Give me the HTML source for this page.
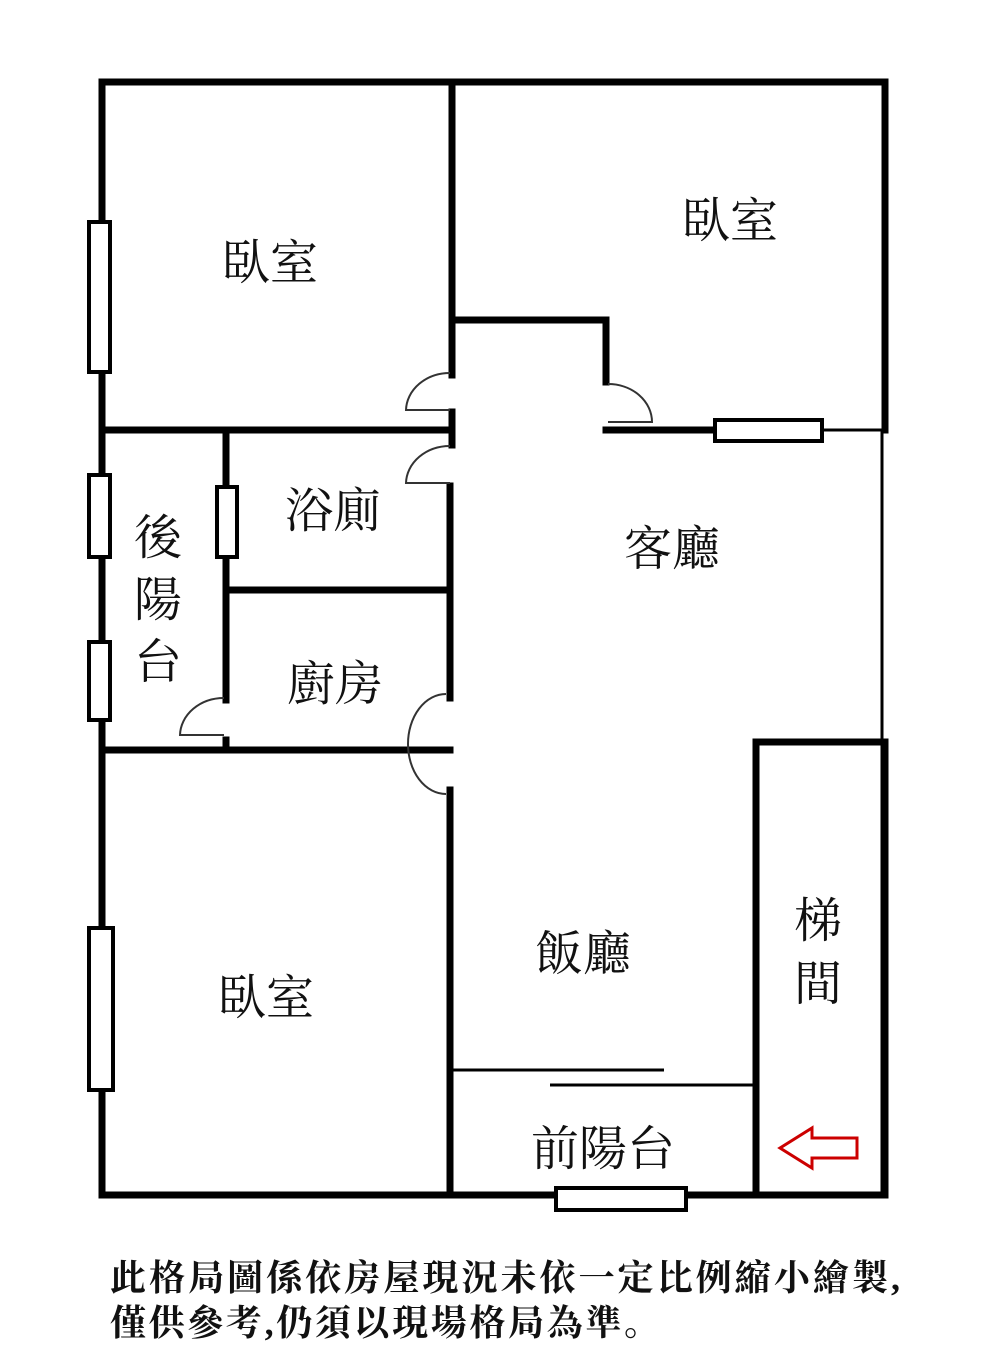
<!DOCTYPE html>
<html><head><meta charset="utf-8"><style>
body{margin:0;background:#fff;}
text{font-family:"Liberation Serif","Noto Serif CJK SC",serif;fill:#111;}
</style></head><body>
<svg width="1000" height="1365" viewBox="0 0 1000 1365" xmlns="http://www.w3.org/2000/svg">
<g stroke="#000" stroke-width="7" fill="none" stroke-linecap="square">
<path d="M102 82H885V430"/>
<path d="M102 82V1195H885V742"/>
<path d="M452 82V375M452 412V445"/>
<path d="M450 486V698M450 790V1195"/>
<path d="M102 430H452"/>
<path d="M452 320H606V382"/>
<path d="M606 430H715"/>
<path d="M226 432V700M226 740V748"/>
<path d="M226 590H450"/>
<path d="M102 750H450"/>
<path d="M756 742H884V1195M756 742V1195"/>
</g>
<g stroke="#000" stroke-width="3" fill="none">
<path d="M822 430H882V742"/>
<path d="M452 1070H664"/>
<path d="M550 1085H756"/>
</g>
<g stroke="#000" stroke-width="4" fill="#fff">
<rect x="89" y="222" width="21" height="150"/>
<rect x="89" y="475" width="21" height="82"/>
<rect x="89" y="642" width="21" height="78"/>
<rect x="89" y="928" width="24" height="162"/>
<rect x="217" y="487" width="20" height="70"/>
<rect x="715" y="420" width="107" height="21"/>
<rect x="556" y="1188" width="130" height="22"/>
</g>
<g stroke="#333" stroke-width="2" fill="none">
<path d="M450 373A44 38 0 0 0 406 410H450"/>
<path d="M450 446A44 38 0 0 0 406 483H450"/>
<path d="M608 384A44 38 0 0 1 652 422H608"/>
<path d="M224 698A44 38 0 0 0 180 735H224"/>
<path d="M446 694A38 50 0 0 0 408 744A38 50 0 0 0 446 794"/>
</g>
<path d="M780 1148L812 1128V1138H857V1158H812V1168Z" fill="#fff" stroke="#c00" stroke-width="3"/>
<g font-size="48" text-anchor="middle">
<text x="270" y="279">臥室</text>
<text x="730" y="237">臥室</text>
<text x="333" y="527">浴廁</text>
<text x="158" y="554">後</text>
<text x="158" y="616">陽</text>
<text x="158" y="678">台</text>
<text x="335" y="700">廚房</text>
<text x="672" y="565">客廳</text>
<text x="583" y="970">飯廳</text>
<text x="818" y="937">梯</text>
<text x="818" y="1000">間</text>
<text x="266" y="1014">臥室</text>
<text x="603" y="1165">前陽台</text>
</g>
<g font-size="36" font-weight="bold">
<text x="110" y="1290" textLength="790" lengthAdjust="spacing">此格局圖係依房屋現況未依一定比例縮小繪製,</text>
<text x="110" y="1335" textLength="550" lengthAdjust="spacing">僅供參考,仍須以現場格局為準。</text>
</g>
</svg>
</body></html>
